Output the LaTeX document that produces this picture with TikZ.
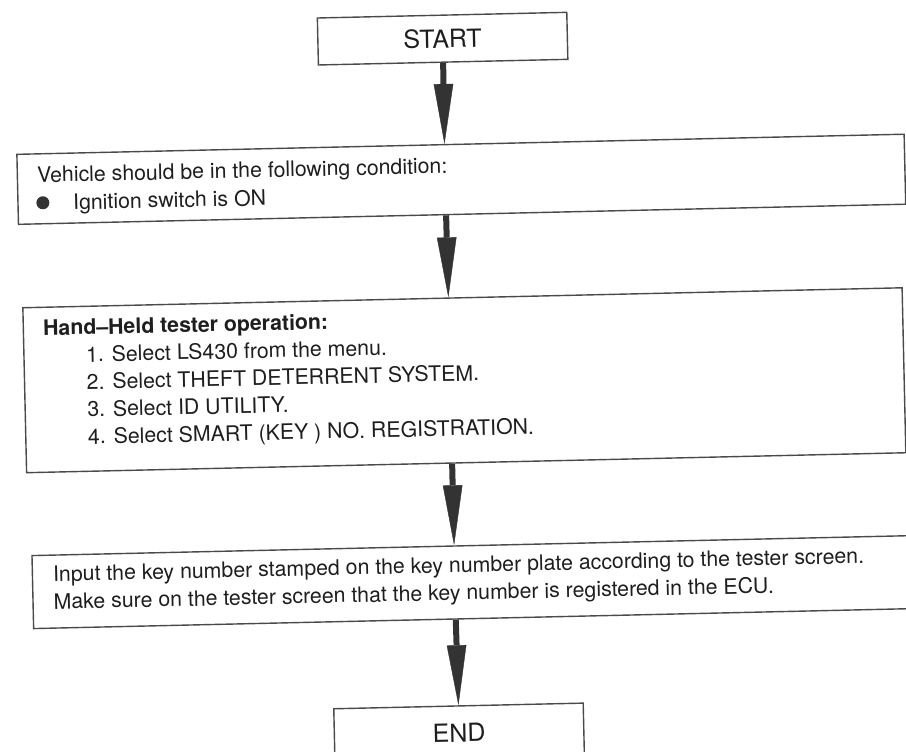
\documentclass[tikz,border=0pt]{standalone}
\usepackage{fontspec}
\setmainfont{TeX Gyre Heros}
\usetikzlibrary{calc,arrows.meta}
\definecolor{ink}{HTML}{1E1E1E}
\definecolor{frame}{HTML}{4A4A4A}
\definecolor{arrowgray}{HTML}{333333}
\begin{document}
\begin{tikzpicture}[x=1pt,y=-1pt,
  flowbox/.style={draw=frame, line width=1.4pt, inner sep=0pt, transform shape},
  termbox/.style={flowbox, minimum width=249.5pt, text=ink,
    font=\fontsize{25}{30}\selectfont},
  txt/.style={anchor=base west, inner sep=0pt, text=ink, transform shape,
    font=\fontsize{21.3}{27.6}\selectfont},
  flowarrow/.style={draw=arrowgray, line width=6pt,
    -{Triangle[length=60pt,width=19.5pt,line width=0.4pt]}}
]
\useasboundingbox (0,0) rectangle (906,752);
\clip (0,0) rectangle (906,752);
\begin{scope}[rotate around={1.3:(453,376)}]
  % start terminal
  \node[termbox, minimum height=47pt] (start) at (450.25,38.5) {START};

  % preconditions
  \node[flowbox, minimum width=887.5pt, minimum height=70pt] (cond) at (465.75,179.5) {};
  \node[txt] (condhead) at (41.6,173.1) {Vehicle should be in the following condition:};
  \node[circle, fill=arrowgray, inner sep=0pt, minimum size=13pt] (bullet) at (46.9,193.5) {};
  \node[txt] (conditem) at (77,201.1) {Ignition switch is ON};

  % hand-held tester steps
  \node[flowbox, minimum width=879.5pt, minimum height=165pt] (tester) at (464.25,380.5) {};
  \node[txt, font=\fontsize{21.3}{27.6}\selectfont\bfseries] (testerhead) at (44.1,326.3) {Hand–Held tester operation:};
  \foreach \i/\t in {1/{1. Select LS430 from the menu.},
                     2/{2. Select THEFT DETERRENT SYSTEM.},
                     3/{3. Select ID UTILITY.},
                     4/{4. Select SMART (KEY ) NO. REGISTRATION.}}
    \node[txt] (item\i) at (86.5,{326.3+27.4*\i}) {\t};

  % key number input
  \node[flowbox, minimum width=877pt, minimum height=73pt] (input) at (466.5,582.5) {};
  \node[txt] (inputa) at (48.5,572.5) {Input the key number stamped on the key number plate according to the tester screen.};
  \node[txt] (inputb) at (48.5,600.1) {Make sure on the tester screen that the key number is registered in the ECU.};

  % end terminal
  \node[termbox, minimum height=54pt] (finish) at (451,733) {END};

  % flow arrows
  \draw[flowarrow] (start.south) -- ($(cond.north west)!0.482!(cond.north east)$);
  \draw[flowarrow] ($(cond.south west)!0.482!(cond.south east)$) -- ($(tester.north west)!0.484!(tester.north east)$);
  \draw[flowarrow] ($(tester.south west)!0.484!(tester.south east)$) -- ($(input.north west)!0.4815!(input.north east)$);
  \draw[flowarrow] ($(input.south west)!0.4815!(input.south east)$) -- (finish.north);
\end{scope}
\end{tikzpicture}
\end{document}
